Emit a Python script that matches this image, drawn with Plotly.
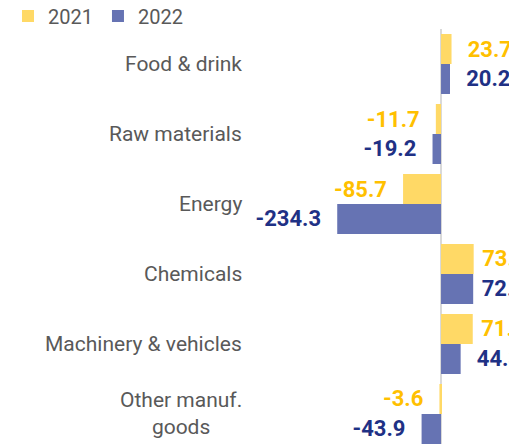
import plotly.graph_objects as go

categories = ["Food & drink", "Raw materials", "Energy", "Chemicals",
              "Machinery & vehicles", "Other manuf.<br>goods"]
values_2021 = [23.7, -11.7, -85.7, 73.7, 71.6, -3.6]
values_2022 = [20.2, -19.2, -234.3, 72.6, 44.3, -43.9]

PAD = "\u00a0\u00a0\u200a"
PAD_EDGE = "\u00a0"  # labels near the right edge are pushed in


def labels(vals):
    out = []
    for v in vals:
        s = f"<b>{v:.1f}</b>"
        if v >= 0:
            out.append((PAD_EDGE if v > 60 else PAD) + s)
        else:
            out.append(s + PAD)
    return out


fig = go.Figure()
fig.add_trace(go.Bar(
    name="2021", y=categories, x=values_2021, orientation="h",
    marker=dict(color="#FFD966", line=dict(width=0)),
    text=labels(values_2021), textposition="outside", constraintext="none",
    textfont=dict(family="Roboto", size=22, color="#FFC000"),
    cliponaxis=False,
))
fig.add_trace(go.Bar(
    name="2022", y=categories, x=values_2022, orientation="h",
    marker=dict(color="#6673B3", line=dict(width=0)),
    text=labels(values_2022), textposition="outside", constraintext="none",
    textfont=dict(family="Roboto", size=22, color="#1F3185"),
    cliponaxis=False,
))

for c in categories:
    fig.add_annotation(x=0, xref="paper", y=c, yref="y", text=c,
                       xanchor="right", yanchor="middle", align="center",
                       xshift=-6, showarrow=False,
                       font=dict(family="Roboto", size=21, color="#595959"))

fig.update_layout(
    width=600, height=444,
    margin=dict(l=242, r=0, t=21, b=0, autoexpand=False),
    barmode="group", bargap=0.143, bargroupgap=0,
    plot_bgcolor="white", paper_bgcolor="white",
    font=dict(family="Roboto", size=20, color="#595959"),
    showlegend=True,
    legend=dict(orientation="h", x=-0.0103, xref="container", y=0.982, yref="container",
                yanchor="middle", xanchor="left", font=dict(size=20, color="#595959"),
                traceorder="normal", bgcolor="rgba(0,0,0,0)", borderwidth=0),
    xaxis=dict(range=[-431.2, 376.9], showgrid=False, showticklabels=False,
               zeroline=True, zerolinecolor="#D9D9D9", zerolinewidth=2,
               showline=False, ticks=""),
    yaxis=dict(type="category", categoryorder="array", categoryarray=categories,
               range=[5.543, -0.5], showticklabels=False, showgrid=False,
               zeroline=False, showline=False, ticks=""),
)

fig.write_html(
    "out.html",
    post_script="document.documentElement.style.overflow='hidden';"
                "document.body.style.overflow='hidden';",
)
